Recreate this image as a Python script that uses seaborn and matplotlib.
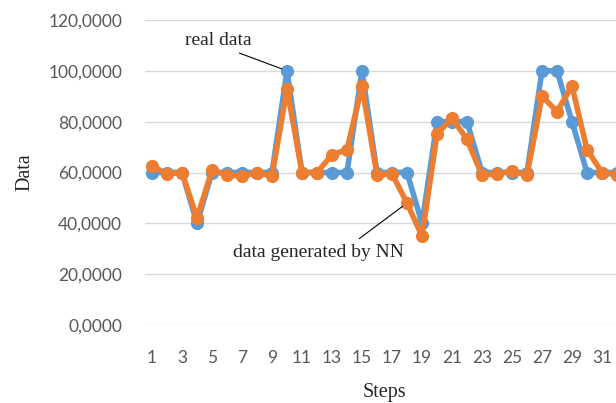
import pandas as pd
import matplotlib
matplotlib.use("Agg")
import matplotlib.pyplot as plt
import seaborn as sns

# 数据
steps = list(range(1, 33))
real_data = [60, 60, 60, 40, 60, 60, 60, 60, 60, 100,
             60, 60, 60, 60, 100, 60, 60, 60, 40, 80,
             80, 80, 60, 60, 60, 60, 100, 100, 80, 60,
             60, 60]
nn_data = [62.5, 59.5, 60, 42, 61, 59, 58.5, 60, 58.5, 93,
           60, 60, 67, 69, 94, 59, 59.5, 48, 35, 75,
           81.5, 73, 59, 59.5, 60.5, 59, 90, 84, 94, 69,
           60, 59]
y_ticks = [0, 20, 40, 60, 80, 100, 120]
x_ticks = list(range(1, 32, 2))

df = pd.DataFrame({
    "Steps": steps * 2,
    "Data": real_data + nn_data,
    "series": ["real data"] * len(steps) + ["data generated by NN"] * len(steps),
})

sns.set_style("white")
fig = plt.figure(figsize=(6.16, 4.03), dpi=100)
ax = fig.add_axes([144.5 / 616, 78 / 403, 480 / 616, 305 / 403])

sns.lineplot(data=df, x="Steps", y="Data", hue="series",
             palette=["#5B9BD5", "#ED7D31"], marker="o", markersize=9.5,
             markeredgewidth=0, linewidth=4, legend=False, ax=ax)

ax.set_xlim(0.5, 32.5)
ax.set_ylim(0, 120)
ax.set_yticks(y_ticks)
ax.set_yticklabels([f"{v},0000" for v in y_ticks])
ax.set_xticks(x_ticks)
ax.set_xticklabels([str(v) for v in x_ticks])
ax.grid(axis="y", color="#D9D9D9", linewidth=1)
ax.set_axisbelow(True)
for s in ax.spines.values():
    s.set_visible(False)
ax.tick_params(axis="x", length=0, labelsize=12.5, colors="#595959", pad=18)
ax.tick_params(axis="y", length=0, labelsize=12.5, colors="#595959", pad=16)
for lab in ax.get_xticklabels() + ax.get_yticklabels():
    lab.set_family("Lato")

ax.set_xlabel("Steps", family="Liberation Serif", fontsize=14.5, labelpad=12)
ax.set_ylabel("Data", family="Liberation Serif", fontsize=14.5, labelpad=10)

# 标注
ax.annotate("real data", xy=(10, 100), xytext=(5.4, 112),
            fontsize=14, family="Liberation Serif", ha="center", va="center",
            arrowprops=dict(arrowstyle="-", color="black", lw=0.8, shrinkA=2, shrinkB=4,
                            relpos=(0.65, 0.0)))
ax.annotate("data generated by NN", xy=(18, 48), xytext=(12.1, 28.7),
            fontsize=14, family="Liberation Serif", ha="center", va="center",
            arrowprops=dict(arrowstyle="-", color="black", lw=0.8, shrinkA=2, shrinkB=4,
                            relpos=(0.7, 1.0)))

fig.savefig("out.png", dpi=100)
